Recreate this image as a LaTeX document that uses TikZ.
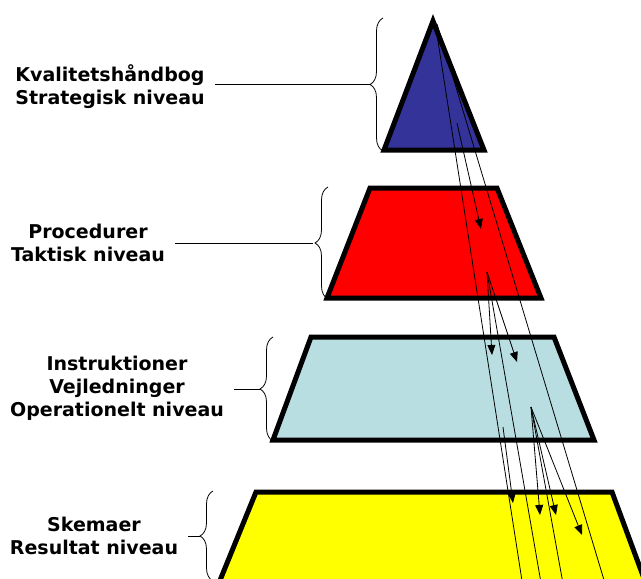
\documentclass[tikz,border=0pt]{standalone}
\usepackage{fontspec}
\setmainfont{DejaVu Sans}
\usetikzlibrary{arrows.meta,decorations.pathreplacing}

\definecolor{strategisk}{RGB}{51,51,153}
\definecolor{taktisk}{RGB}{255,0,0}
\definecolor{operationel}{RGB}{185,222,226}
\definecolor{resultat}{RGB}{255,255,0}

\tikzset{
  niveau/.style={draw=black,line width=5pt,line join=miter},
  tekst/.style={font=\bfseries\fontsize{19}{23}\selectfont,align=center,inner ysep=0pt,inner xsep=10pt},
  klamme/.style={decorate,decoration={brace,amplitude=13pt},line width=0.8pt},
  pil/.style={-{Triangle[length=10pt,width=8pt]},line width=0.8pt},
  linje/.style={line width=0.8pt}
}

\begin{document}
\begin{tikzpicture}[x=1pt,y=-1pt]
\clip (0,0) rectangle (641,579);

\draw[niveau,fill=strategisk] (433,21) -- (484,150) -- (384,150) -- cycle;
\draw[niveau,fill=taktisk] (370,188) -- (497,188) -- (541,298) -- (327,298) -- cycle;
\draw[niveau,fill=operationel] (311,337) -- (554,337) -- (594,440) -- (273,440) -- cycle;
\draw[niveau,fill=resultat] (256,492) -- (612,492) -- (652,600) -- (212,600) -- cycle;

\node[tekst] (kval) at (110,87) {Kvalitetshåndbog\\Strategisk niveau};
\node[tekst] (proc) at (88,243) {Procedurer\\Taktisk niveau};
\node[tekst] (instr) at (117,388) {Instruktioner\\Vejledninger\\Operationelt niveau};
\node[tekst] (skema) at (94,536) {Skemaer\\Resultat niveau};

\draw[klamme] (383,151) -- (383,18) coordinate[pos=0.5,xshift=-13pt] (tipA);
\draw[klamme] (328,299) -- (328,187) coordinate[pos=0.5,xshift=-15pt] (tipB);
\draw[klamme] (273,441) -- (273,337) coordinate[pos=0.5,xshift=-13pt] (tipC);
\draw[klamme] (213,581) -- (213,491) coordinate[pos=0.5,xshift=-13pt] (tipD);

\draw[linje] (kval.east |- tipA) -- (tipA);
\draw[linje] (proc.east |- tipB) -- (tipB);
\draw[linje] (instr.east |- tipC) -- (tipC);
\draw[linje] (skema.east |- tipD) -- (tipD);

\coordinate (s1) at (435,22);
\coordinate (s2) at (437,24);
\coordinate (s3) at (457,123);
\coordinate (s4) at (487,272);
\coordinate (s5) at (503,427);
\coordinate (s6) at (531,407);

\coordinate (e1) at (525,600);
\coordinate (e2) at (610,600);
\coordinate (e3) at (481,229);
\coordinate (e4) at (492,355);
\coordinate (e5) at (517,362);
\coordinate (e6) at (544,600);
\coordinate (e7) at (513,503);
\coordinate (e8) at (540,515);
\coordinate (e9) at (556,515);
\coordinate (e10) at (582,535);
\coordinate (e11) at (566,600);

\draw[linje] (s1) -- (e1);
\draw[linje] (s2) -- (e2);
\draw[pil] (s3) -- (e3);
\draw[pil] (s4) -- (e4);
\draw[pil] (s4) -- (e5);
\draw[linje] (s4) -- (e6);
\draw[pil] (s5) -- (e7);
\draw[pil] (s6) -- (e8);
\draw[pil] (s6) -- (e9);
\draw[pil] (s6) -- (e10);
\draw[linje] (s6) -- (e11);

\end{tikzpicture}
\end{document}
